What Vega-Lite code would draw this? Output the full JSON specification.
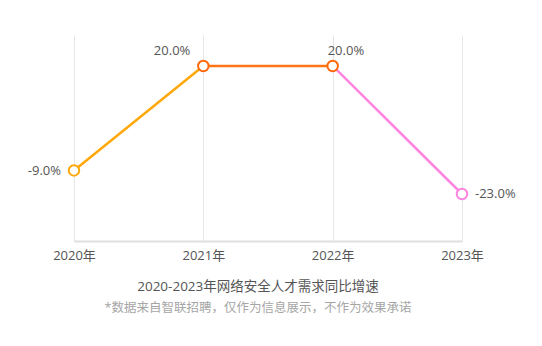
{
  "$schema": "https://vega.github.io/schema/vega-lite/v6.json",
  "autosize": {"type": "none"},
  "width": 388,
  "height": 206,
  "padding": {"left": 74, "top": 35, "right": 80, "bottom": 105},
  "background": "white",
  "config": {
    "font": "Open Sans, Noto Sans CJK SC",
    "view": {"stroke": null}
  },
  "title": {
    "text": "2020-2023年网络安全人才需求同比增速",
    "subtitle": "*数据来自智联招聘，仅作为信息展示，不作为效果承诺",
    "orient": "bottom",
    "anchor": "middle",
    "dx": -10,
    "offset": 18,
    "fontSize": 13.5,
    "fontWeight": "normal",
    "color": "#555555",
    "subtitleFontSize": 12.5,
    "subtitleColor": "#a6a6a6",
    "subtitlePadding": 8,
    "font": "Open Sans, Noto Sans CJK SC",
    "subtitleFont": "Open Sans, Noto Sans CJK SC"
  },
  "datasets": {
    "pts": [
      {"year": "2020年", "value": -9, "label": "-9.0%", "grp": "p1"},
      {"year": "2021年", "value": 20, "label": "20.0%", "grp": "p2"},
      {"year": "2022年", "value": 20, "label": "20.0%", "grp": "p3"},
      {"year": "2023年", "value": -23, "label": "-23.0%", "grp": "p4"}
    ],
    "segs": [
      {"from": "2020年", "to": "2021年", "v1": -9, "v2": 20, "seg": "s1"},
      {"from": "2021年", "to": "2022年", "v1": 20, "v2": 20, "seg": "s2"},
      {"from": "2022年", "to": "2023年", "v1": 20, "v2": -23, "seg": "s3"}
    ]
  },
  "resolve": {"scale": {"color": "independent"}},
  "layer": [
    {
      "data": {"name": "segs"},
      "mark": {"type": "rule", "strokeWidth": 2.5, "strokeCap": "round"},
      "encoding": {
        "x": {
          "field": "from", "type": "ordinal",
          "sort": ["2020年", "2021年", "2022年", "2023年"],
          "scale": {"type": "point", "padding": 0, "domain": ["2020年", "2021年", "2022年", "2023年"]},
          "axis": {
            "title": null, "grid": true, "gridColor": "#e6e6e6", "gridWidth": 1,
            "ticks": false, "domain": true, "domainColor": "#e0e0e0", "domainWidth": 2,
            "labelAngle": 0, "labelFontSize": 13, "labelColor": "#555555", "labelPadding": 8
          }
        },
        "x2": {"field": "to"},
        "y": {
          "field": "v1", "type": "quantitative",
          "scale": {"type": "symlog", "constant": 3, "domain": [-118.4, 60.5], "nice": false, "zero": false},
          "axis": null
        },
        "y2": {"field": "v2"},
        "color": {
          "field": "seg", "type": "nominal",
          "scale": {"domain": ["s1", "s2", "s3"], "range": ["#ffa80a", "#ff7414", "#ff84e2"]},
          "legend": null
        }
      }
    },
    {
      "data": {"name": "pts"},
      "mark": {"type": "point", "filled": false, "fill": "white", "fillOpacity": 1, "size": 110, "strokeWidth": 2, "opacity": 1},
      "encoding": {
        "x": {"field": "year", "type": "ordinal"},
        "y": {"field": "value", "type": "quantitative"},
        "color": {
          "field": "grp", "type": "nominal",
          "scale": {"domain": ["p1", "p2", "p3", "p4"], "range": ["#ffa80a", "#ff6a0a", "#ff6a0a", "#ff84e2"]},
          "legend": null
        }
      }
    },
    {
      "data": {"name": "pts"},
      "transform": [{"filter": "datum.year === '2020年'"}],
      "mark": {"type": "text", "align": "right", "baseline": "middle", "dx": -13, "dy": 1, "fontSize": 13, "color": "#555555"},
      "encoding": {
        "x": {"field": "year", "type": "ordinal"},
        "y": {"field": "value", "type": "quantitative"},
        "text": {"field": "label"}
      }
    },
    {
      "data": {"name": "pts"},
      "transform": [{"filter": "datum.year === '2021年'"}],
      "mark": {"type": "text", "align": "right", "baseline": "middle", "dx": -13, "dy": -15, "fontSize": 13, "color": "#555555"},
      "encoding": {
        "x": {"field": "year", "type": "ordinal"},
        "y": {"field": "value", "type": "quantitative"},
        "text": {"field": "label"}
      }
    },
    {
      "data": {"name": "pts"},
      "transform": [{"filter": "datum.year === '2022年'"}],
      "mark": {"type": "text", "align": "left", "baseline": "middle", "dx": -5, "dy": -15, "fontSize": 13, "color": "#555555"},
      "encoding": {
        "x": {"field": "year", "type": "ordinal"},
        "y": {"field": "value", "type": "quantitative"},
        "text": {"field": "label"}
      }
    },
    {
      "data": {"name": "pts"},
      "transform": [{"filter": "datum.year === '2023年'"}],
      "mark": {"type": "text", "align": "left", "baseline": "middle", "dx": 13, "dy": 0, "fontSize": 13, "color": "#555555"},
      "encoding": {
        "x": {"field": "year", "type": "ordinal"},
        "y": {"field": "value", "type": "quantitative"},
        "text": {"field": "label"}
      }
    }
  ]
}
